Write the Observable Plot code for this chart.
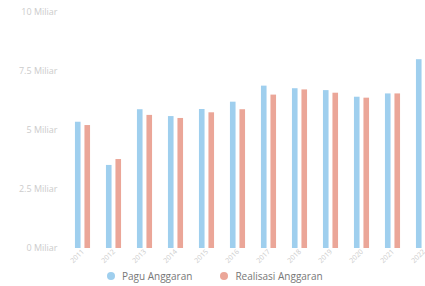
<!DOCTYPE html>
<html>
<head>
<meta charset="utf-8">
<script src="https://cdn.jsdelivr.net/npm/d3@7"></script>
<script src="https://cdn.jsdelivr.net/npm/@observablehq/plot@0.6"></script>
<style>
  html, body { margin: 0; padding: 0; background: #fff; overflow: hidden; width: 425px; height: 286px; }
  #chart svg { display: block; }
  #chart svg g[aria-label="x-axis tick label"], #chart svg g[aria-label="x-axis"] { font-size: 7px; }
  #legend { display: flex; align-items: center; height: 16px; padding-left: 107px; font-family: "Open Sans", sans-serif; font-size: 10px; color: #777; }
  .item { display: flex; align-items: center; margin-right: 28px; }
  .dot { width: 8px; height: 8px; border-radius: 50%; margin-right: 7px; }
</style>
</head>
<body>
<div id="chart"></div>
<div id="legend"></div>
<script>
const years = ["2011","2012","2013","2014","2015","2016","2017","2018","2019","2020","2021","2022"];
const pagu = [5.35, 3.52, 5.88, 5.59, 5.89, 6.20, 6.88, 6.77, 6.69, 6.41, 6.55, 8.0];
const realisasi = [5.21, 3.77, 5.64, 5.51, 5.75, 5.88, 6.50, 6.72, 6.58, 6.37, 6.55, 7.8];
const seriesNames = ["Pagu Anggaran", "Realisasi Anggaran"];
const yTicks = [0, 2.5, 5, 7.5, 10];
const colors = ["#9fcfee", "#eba698"];

const paguData = years.map((y, i) => ({year: y, value: pagu[i]}));
const realData = years.map((y, i) => ({year: y, value: realisasi[i]}));

const chart = Plot.plot({
  width: 425,
  height: 268,
  marginLeft: 60,
  marginTop: 12,
  marginBottom: 20,
  marginRight: 0,
  style: {fontFamily: "'Open Sans', sans-serif", fontSize: "9px", color: "#cccccc", background: "#fff"},
  x: {domain: years, range: [65.05, 441.85], padding: 0, label: null, tickSize: 0, tickRotate: -45, tickPadding: 2},
  y: {domain: [0, 10], ticks: yTicks, tickFormat: d => d + " Miliar", label: null, tickSize: 0, tickPadding: 3},
  marks: [
    Plot.barY(paguData, {x: "year", y: "value", fill: colors[0], insetLeft: 7.95, insetRight: 17.45}),
    Plot.barY(realData, {x: "year", y: "value", fill: colors[1], insetLeft: 17.45, insetRight: 7.95})
  ]
});
document.getElementById("chart").appendChild(chart);

const legend = document.getElementById("legend");
seriesNames.forEach((name, i) => {
  const item = document.createElement("div");
  item.className = "item";
  const dot = document.createElement("span");
  dot.className = "dot";
  dot.style.background = colors[i];
  item.appendChild(dot);
  const label = document.createElement("span");
  label.textContent = name;
  item.appendChild(label);
  legend.appendChild(item);
});
</script>
</body>
</html>
